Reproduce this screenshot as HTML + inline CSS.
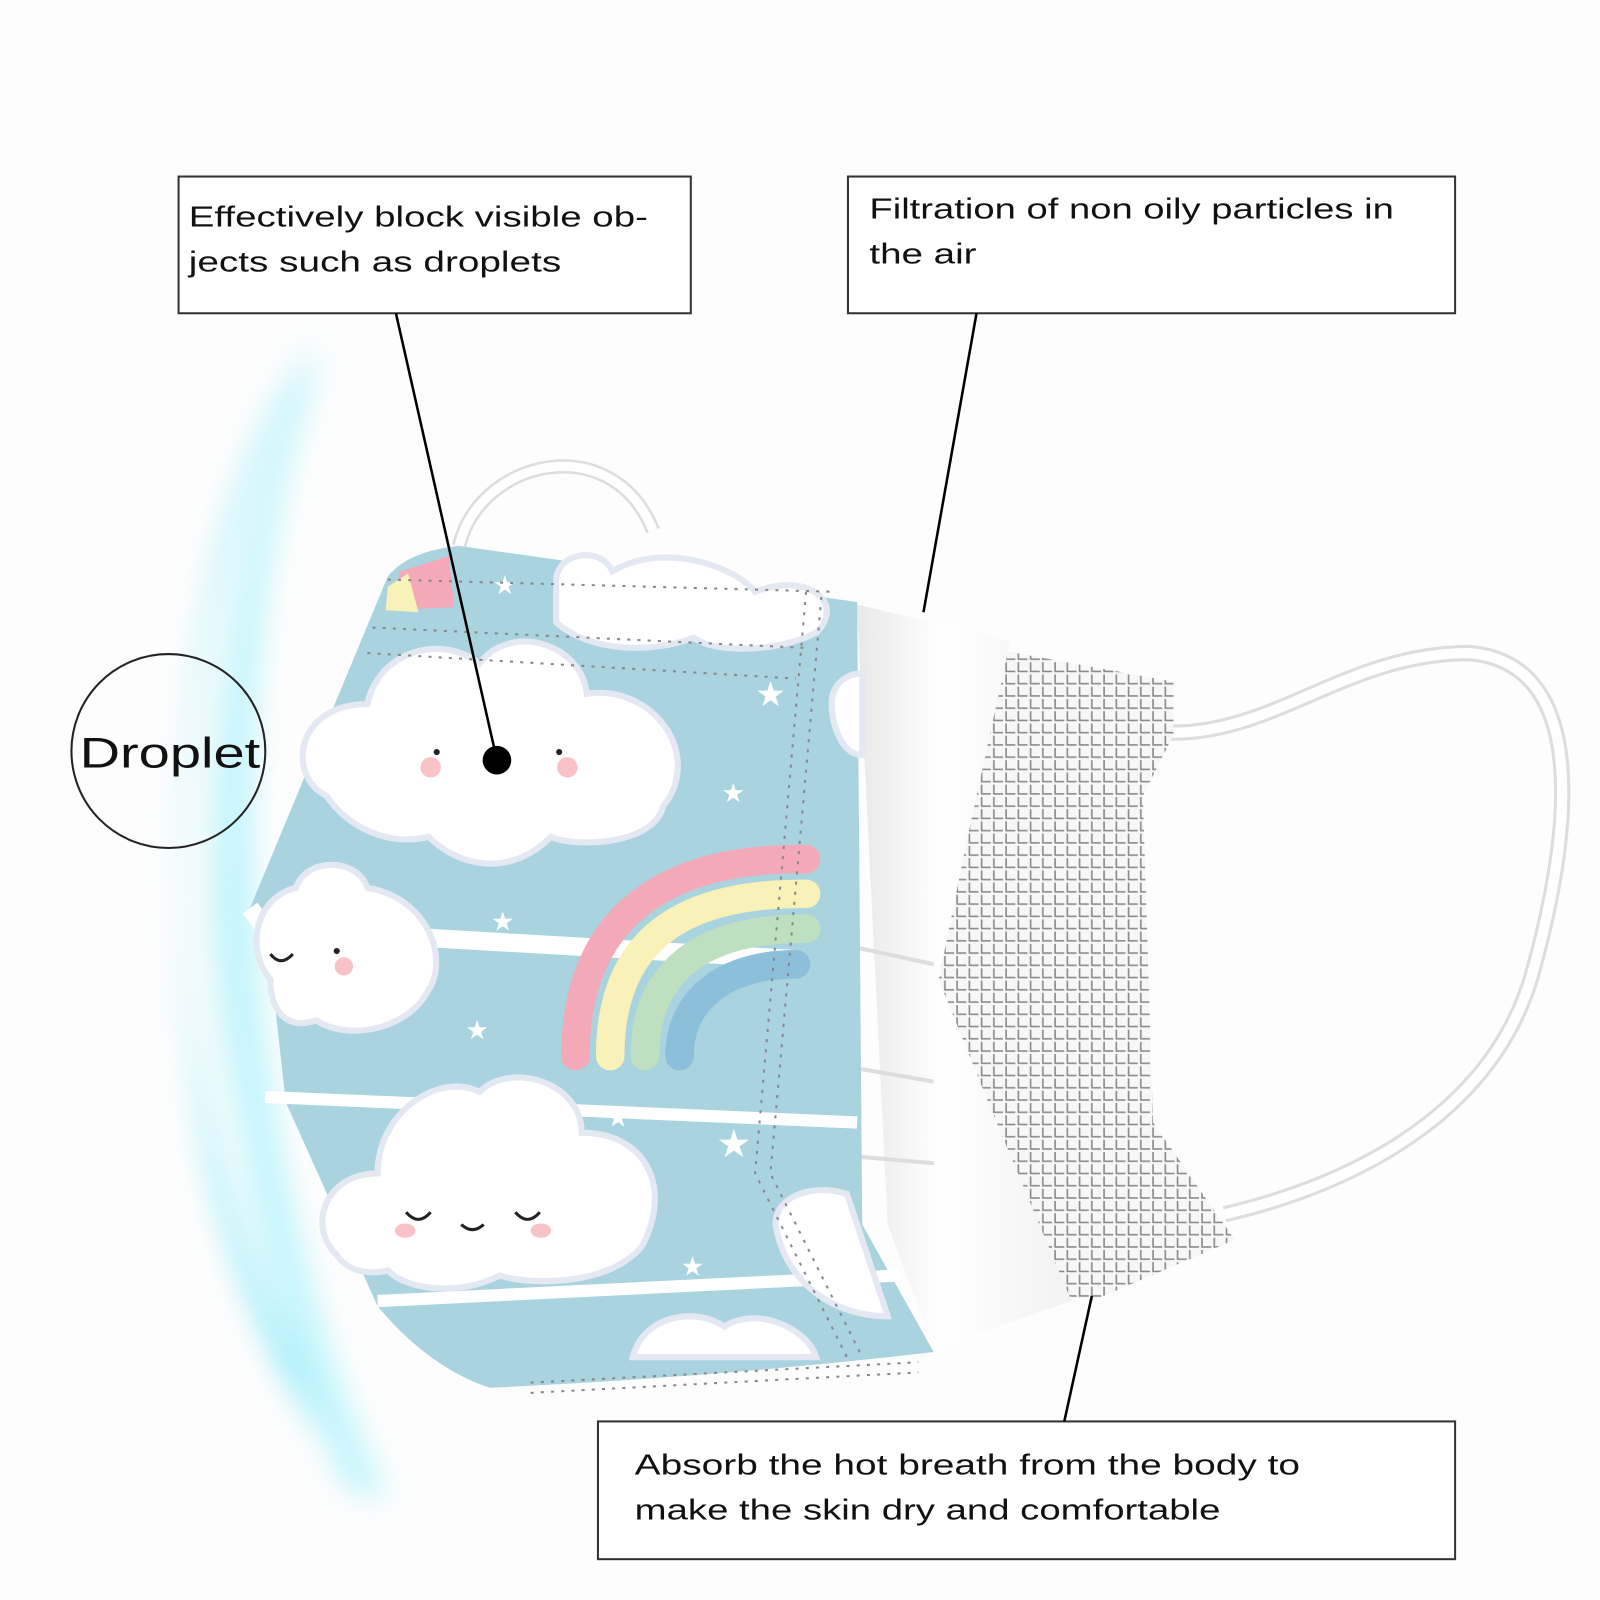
<!DOCTYPE html>
<html><head><meta charset="utf-8"><style>
html,body{margin:0;padding:0;background:#fdfdfd}
svg{display:block}
text{font-family:"Liberation Sans",sans-serif;fill:#111}
</style></head><body>
<svg width="1600" height="1600" viewBox="0 0 1568 1568" xmlns="http://www.w3.org/2000/svg">
<defs>
<filter id="blur" x="-50%" y="-20%" width="200%" height="140%"><feGaussianBlur stdDeviation="14"/></filter>
<pattern id="mesh" width="12" height="12" patternUnits="userSpaceOnUse">
<rect width="12" height="12" fill="#f7f7f7"/>
<path d="M2 1 V10 H11" stroke="#8a8a8a" stroke-width="1.6" fill="none"/>
</pattern>
<linearGradient id="side" x1="0" x2="1"><stop offset="0" stop-color="#e8e8e8"/><stop offset="0.4" stop-color="#fff"/><stop offset="1" stop-color="#f2f2f2"/></linearGradient>
</defs>
<rect width="1568" height="1568" fill="#fdfdfd"/>
<!-- glow -->
<g filter="url(#blur)">
<path d="M310 330 C220 480 175 700 180 900 C190 1120 255 1320 380 1470 C320 1440 235 1300 200 1120 C170 950 165 760 210 560 C235 450 280 370 310 330 Z" fill="#8eeaf8"/>
<path d="M310 340 C240 480 205 700 210 900 C220 1120 280 1320 380 1470 C300 1380 240 1200 225 1000 C215 800 240 560 310 340 Z" fill="#a4eefa"/>
<path d="M320 340 C260 480 240 700 250 900 C262 1120 310 1320 380 1470 L340 1460 C270 1320 225 1120 215 900 C210 700 240 480 320 340 Z" fill="#c2f5fc"/>
</g>
<!-- ear loops -->
<path d="M450 535 C470 450 600 420 640 520" stroke="#ddd" stroke-width="14" fill="none"/>
<path d="M450 535 C470 450 600 420 640 520" stroke="#fff" stroke-width="9" fill="none"/>
<path d="M1145 718 C1250 720 1320 640 1440 640 C1560 650 1540 820 1500 960 C1460 1090 1330 1160 1200 1190" stroke="#ddd" stroke-width="16" fill="none"/>
<path d="M1145 718 C1250 720 1320 640 1440 640 C1560 650 1540 820 1500 960 C1460 1090 1330 1160 1200 1190" stroke="#fff" stroke-width="10" fill="none"/>
<!-- mesh -->
<path d="M985 638 L1150 668 L1150 720 L1120 780 L1130 1100 L1210 1215 L1070 1275 L1045 1270 L920 960 Z" fill="url(#mesh)"/>
<!-- white side panel -->
<path d="M838 592 L990 628 L918 960 L1050 1275 L915 1322 L870 1200 L840 600 Z" fill="url(#side)"/>
<path d="M800 920 L915 945 M800 1040 L915 1060 M800 1130 L915 1140" stroke="#ddd" stroke-width="4"/>
<!-- blue mask -->
<path d="M380 565 Q400 540 450 535 L840 590 L845 1200 L915 1325 Q700 1350 480 1360 Q420 1340 370 1280 L280 1080 L260 900 L245 890 Z" fill="#a9d3df"/>
<!-- folds -->
<path d="M245 890 L260 910 L780 940" stroke="#fff" stroke-width="18" fill="none"/>
<path d="M260 1075 L840 1100" stroke="#fff" stroke-width="12" fill="none"/>
<path d="M370 1275 L880 1250" stroke="#fff" stroke-width="12" fill="none"/>
<!-- clouds -->
<g fill="#fff" stroke="#e4e8f3" stroke-width="6">
<path d="M320 780 C280 760 290 690 360 690 C370 640 430 620 470 650 C500 610 570 630 575 680 C640 670 690 740 650 790 C640 830 560 830 540 820 C500 860 450 850 420 820 C380 830 340 810 320 780 Z"/>
<path d="M265 960 C240 930 250 880 290 870 C300 840 350 840 360 870 C420 880 440 940 420 970 C400 1010 340 1020 310 1000 C280 1010 265 990 265 960 Z"/>
<path d="M330 1230 C300 1200 320 1150 370 1150 C370 1090 430 1050 470 1070 C500 1040 570 1060 570 1110 C630 1110 660 1160 630 1220 C600 1260 520 1260 490 1250 C450 1270 400 1265 380 1245 C360 1250 340 1245 330 1230 Z"/>
<path d="M545 570 C545 540 590 535 600 560 C650 530 720 555 740 580 C790 560 830 590 800 620 C760 640 700 640 680 625 C640 640 580 640 545 610 Z"/>
<path d="M760 1200 C760 1170 800 1160 830 1170 L870 1290 C820 1290 770 1260 760 1200 Z"/>
<path d="M620 1330 C630 1290 680 1280 710 1300 C740 1280 790 1300 800 1330 Z"/>
<path d="M815 690 C815 670 830 660 845 660 L845 740 C825 740 815 710 815 690 Z"/>
</g>
<!-- faces -->
<circle cx="428" cy="737" r="3" fill="#222"/><circle cx="548" cy="737" r="3" fill="#222"/>
<circle cx="422" cy="752" r="10" fill="#f9c2c6"/><circle cx="556" cy="752" r="10" fill="#f9c2c6"/>
<circle cx="337" cy="947" r="9" fill="#f9c2c6"/><circle cx="330" cy="932" r="3" fill="#222"/>
<path d="M265 935 Q275 948 287 935" stroke="#222" stroke-width="3" fill="none"/>
<path d="M398 1188 Q410 1202 422 1188 M452 1200 Q463 1210 474 1200 M505 1188 Q517 1202 529 1188" stroke="#222" stroke-width="3" fill="none"/>
<ellipse cx="397" cy="1206" rx="10" ry="7" fill="#f9c2c6"/><ellipse cx="530" cy="1206" rx="10" ry="7" fill="#f9c2c6"/>
<!-- rainbow -->
<g fill="none" stroke-width="28" stroke-linecap="round">
<path d="M564 1035 C564 900 650 840 790 842" stroke="#f4a9b8"/>
<path d="M598 1035 C598 920 670 875 790 876" stroke="#f8f1b8"/>
<path d="M632 1035 C632 950 690 910 790 910" stroke="#bfe0c0"/>
<path d="M666 1035 C666 980 710 945 780 945" stroke="#8cbfd9"/>
</g>
<path d="M392 560 L440 545 L445 595 L382 598 Z" fill="#f4a9b8"/>
<path d="M380 575 L400 562 L410 600 L378 598 Z" fill="#f8f1b8"/>
<!-- stars -->
<g font-size="26">
<text x="483" y="582" style="fill:#fff">★</text><text x="740" y="692" style="fill:#fff;font-size:34px">★</text>
<text x="707" y="786" style="fill:#fff">★</text><text x="481" y="912" style="fill:#fff">★</text>
<text x="456" y="1018" style="fill:#fff">★</text><text x="594" y="1104" style="fill:#fff">★</text>
<text x="702" y="1134" style="fill:#fff;font-size:38px">★</text><text x="667" y="1250" style="fill:#fff">★</text>
</g>
<!-- stitching -->
<g stroke="#888" stroke-width="2" stroke-dasharray="3 7" fill="none">
<path d="M380 568 L820 580"/><path d="M365 615 L790 635"/><path d="M360 640 L780 665"/>
<path d="M790 580 L740 1150 L830 1330"/><path d="M805 585 L755 1150 L845 1330"/>
<path d="M520 1355 L900 1335"/><path d="M520 1365 L900 1345"/>
</g>
<!-- boxes -->
<g fill="#fff" stroke="#333" stroke-width="2">
<rect x="175" y="173" width="502" height="134"/>
<rect x="831" y="173" width="595" height="134"/>
<rect x="586" y="1393" width="840" height="135"/>
</g>
<g font-size="28">
<text x="185" y="222" textLength="450" lengthAdjust="spacingAndGlyphs">Effectively block visible ob-</text>
<text x="185" y="266" textLength="365" lengthAdjust="spacingAndGlyphs">jects such as droplets</text>
<text x="852" y="214" textLength="514" lengthAdjust="spacingAndGlyphs">Filtration of non oily particles in</text>
<text x="852" y="258" textLength="105" lengthAdjust="spacingAndGlyphs">the air</text>
<text x="622" y="1445" textLength="652" lengthAdjust="spacingAndGlyphs">Absorb the hot breath from the body to</text>
<text x="622" y="1489" textLength="574" lengthAdjust="spacingAndGlyphs">make the skin dry and comfortable</text>
</g>
<!-- connectors -->
<g stroke="#000" stroke-width="2.5">
<line x1="388" y1="307" x2="487" y2="745"/>
<line x1="957" y1="307" x2="905" y2="600"/>
<line x1="1070" y1="1270" x2="1043" y2="1393"/>
</g>
<circle cx="487" cy="745" r="14" fill="#000"/>
<circle cx="165" cy="736" r="95" fill="none" stroke="#222" stroke-width="2"/>
<text x="78" y="752" font-size="42" textLength="177" lengthAdjust="spacingAndGlyphs">Droplet</text>
</svg>
</body></html>
